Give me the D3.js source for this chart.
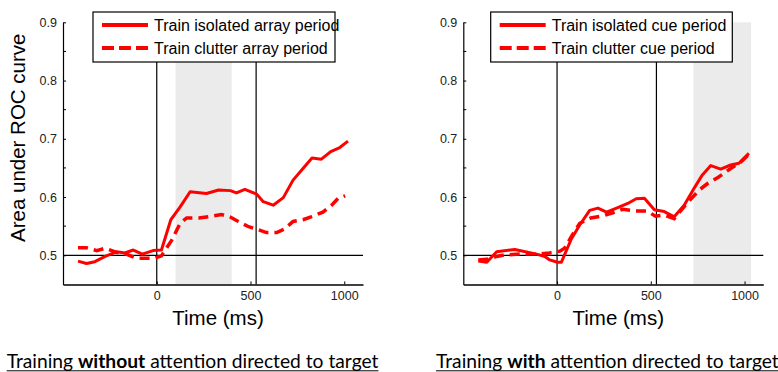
<!DOCTYPE html>
<html>
<head>
<meta charset="utf-8">
<script src="https://cdn.jsdelivr.net/npm/d3@7"></script>
<style>
  body { margin: 0; background: #fff; }
  svg { display: block; font-family: "Liberation Sans", Arial, sans-serif; }
</style>
</head>
<body>
<div id="chart"></div>
<script>
// Left panel: training without attention (array period)
var leftIsoTime = [-420, -375, -330, -275, -215, -170, -125, -77, -20, 25, 75, 125, 178, 265, 330, 393, 425, 470, 533, 568, 621, 675, 727, 780, 828, 878, 928, 976, 1020];
var leftIsoVal  = [0.490, 0.486, 0.489, 0.498, 0.506, 0.504, 0.509, 0.502, 0.508, 0.509, 0.561, 0.583, 0.609, 0.606, 0.612, 0.611, 0.607, 0.613, 0.605, 0.592, 0.586, 0.599, 0.629, 0.649, 0.667, 0.665, 0.678, 0.685, 0.696];
var leftClutTime = [-420, -375, -320, -275, -215, -170, -110, -65, -10, 25, 80, 125, 160, 225, 290, 345, 390, 435, 490, 540, 585, 640, 680, 727, 780, 823, 886, 933, 968, 1005];
var leftClutVal  = [0.513, 0.513, 0.508, 0.512, 0.505, 0.503, 0.495, 0.495, 0.495, 0.499, 0.526, 0.555, 0.564, 0.564, 0.567, 0.570, 0.566, 0.558, 0.549, 0.544, 0.539, 0.539, 0.545, 0.558, 0.561, 0.566, 0.574, 0.586, 0.598, 0.602];

// Right panel: training with attention (cue period)
var rightIsoTime = [-420, -375, -322, -225, -109, -65, -39, 2, 23, 76, 121, 174, 218, 264, 324, 377, 422, 466, 519, 572, 625, 678, 731, 775, 820, 873, 926, 970, 1023];
var rightIsoVal  = [0.490, 0.488, 0.506, 0.510, 0.502, 0.498, 0.492, 0.488, 0.488, 0.528, 0.552, 0.577, 0.581, 0.574, 0.582, 0.589, 0.597, 0.598, 0.578, 0.575, 0.566, 0.586, 0.615, 0.638, 0.654, 0.648, 0.655, 0.658, 0.675];
var rightClutTime = [-420, -375, -322, -290, -200, -100, -40, 15, 40, 76, 121, 180, 235, 298, 350, 420, 480, 525, 572, 625, 695, 758, 806, 860, 926, 980, 1023];
var rightClutVal  = [0.492, 0.493, 0.498, 0.500, 0.502, 0.502, 0.504, 0.507, 0.512, 0.532, 0.555, 0.564, 0.567, 0.573, 0.579, 0.576, 0.576, 0.567, 0.569, 0.563, 0.590, 0.612, 0.624, 0.634, 0.649, 0.660, 0.673];

var yTicks = [0.5, 0.6, 0.7, 0.8, 0.9];
var yMinorTicks = [0.55, 0.65, 0.75, 0.85];
var xTicks = [0, 500, 1000];
var eventTimes = [0, 530];
var leftShade = [100, 400];
var rightShade = [727, 1035];
var leftLegend = ["Train isolated array period", "Train clutter array period"];
var rightLegend = ["Train isolated cue period", "Train clutter cue period"];

var width = 778, height = 372;
var svg = d3.select("#chart").append("svg")
    .attr("width", width)
    .attr("height", height);

function zip(t, v) {
    return t.map(function(d, i) { return { t: d, v: v[i] }; });
}

// Draw one panel
function drawPanel(opt) {
    var x = d3.scaleLinear().domain([-500, 1100]).range([opt.left, opt.left + 300]);
    var y = d3.scaleLinear().domain([0.45, 0.9]).range([284.4, 22.3]);
    var g = svg.append("g");

    // shaded window
    g.append("rect")
        .attr("x", x(opt.shade[0]))
        .attr("y", y(0.9))
        .attr("width", x(opt.shade[1]) - x(opt.shade[0]))
        .attr("height", y(0.45) - y(0.9))
        .attr("fill", "#ebebeb");

    // reference lines
    g.append("line")
        .attr("x1", x(-500)).attr("x2", x(1100))
        .attr("y1", y(0.5)).attr("y2", y(0.5))
        .attr("stroke", "#000").attr("stroke-width", 1.2);
    g.selectAll(".ev").data(eventTimes).enter().append("line")
        .attr("x1", d => x(d)).attr("x2", d => x(d))
        .attr("y1", y(0.45)).attr("y2", y(0.9))
        .attr("stroke", "#000").attr("stroke-width", 1.2);

    // axes
    var yAxis = d3.axisLeft(y).tickValues(yTicks).tickFormat(d3.format(".1f"))
        .tickSizeInner(-3).tickSizeOuter(0).tickPadding(6);
    var yg = g.append("g").attr("transform", `translate(${x(-500)},0)`).call(yAxis);
    yg.selectAll(".minor").data(yMinorTicks).enter().append("line")
        .attr("class", "minor")
        .attr("x1", 0).attr("x2", 3)
        .attr("y1", d => y(d)).attr("y2", d => y(d))
        .attr("stroke", "#000");
    yg.select(".domain").attr("stroke-width", 1.2);

    var xAxis = d3.axisBottom(x).tickValues(xTicks).tickFormat(d3.format("d"))
        .tickSizeInner(-3).tickSizeOuter(0).tickPadding(7);
    var xg = g.append("g").attr("transform", `translate(0,${y(0.45)})`).call(xAxis);
    xg.select(".domain").attr("stroke-width", 1.5);
    svg.selectAll(".tick text").attr("font-size", 12.5).attr("fill", "#222")
        .attr("font-family", "Liberation Sans, Arial, sans-serif");

    // curves
    var line = d3.line().x(d => x(d.t)).y(d => y(d.v));
    g.append("path").datum(zip(opt.isoT, opt.isoV))
        .attr("d", line).attr("fill", "none")
        .attr("stroke", "#ff0000").attr("stroke-width", 3)
        .attr("stroke-linejoin", "round");
    g.append("path").datum(zip(opt.clutT, opt.clutV))
        .attr("d", line).attr("fill", "none")
        .attr("stroke", "#ff0000").attr("stroke-width", 3.5)
        .attr("stroke-dasharray", "10,6");

    // x label
    g.append("text")
        .attr("x", opt.left + 155).attr("y", 325)
        .attr("text-anchor", "middle")
        .attr("font-size", 20.5)
        .text("Time (ms)");

    // legend
    var lg = g.append("g").attr("transform", `translate(${opt.legX},12)`);
    lg.append("rect")
        .attr("width", opt.legW).attr("height", 50)
        .attr("fill", "#fff").attr("stroke", "#000").attr("stroke-width", 1.2);
    opt.legend.forEach(function(label, i) {
        var yy = 13 + i * 23;
        lg.append("line")
            .attr("x1", 9).attr("x2", 55)
            .attr("y1", yy).attr("y2", yy)
            .attr("stroke", "#ff0000").attr("stroke-width", 4)
            .attr("stroke-dasharray", i === 0 ? null : "12,5");
        lg.append("text")
            .attr("x", 61).attr("y", yy + 5.5)
            .attr("font-size", 16)
            .text(label);
    });
}

drawPanel({ left: 63, shade: leftShade, isoT: leftIsoTime, isoV: leftIsoVal,
    clutT: leftClutTime, clutV: leftClutVal, legend: leftLegend, legX: 93, legW: 242 });
drawPanel({ left: 463.3, shade: rightShade, isoT: rightIsoTime, isoV: rightIsoVal,
    clutT: rightClutTime, clutV: rightClutVal, legend: rightLegend, legX: 490.7, legW: 241.6 });

// y label
svg.append("text")
    .attr("transform", "translate(25,242) rotate(-90)")
    .attr("font-size", 20.5)
    .text("Area under ROC curve");

// captions, underlined, with a bold word
function caption(x0, parts, size) {
    var t = svg.append("text")
        .attr("x", x0).attr("y", 367.5)
        .attr("font-family", "Lato, 'Open Sans', sans-serif")
        .attr("font-size", size);
    parts.forEach(function(p) {
        t.append("tspan").attr("font-weight", p[1] ? "bold" : "normal").text(p[0]);
    });
    return t;
}
var leftParts = [["Training ", false], ["without", true], [" attention directed to target", false]];
var rightParts = [["Training ", false], ["with", true], [" attention directed to target", false]];

var probe = caption(6.7, leftParts, 16);
var w = probe.node().getComputedTextLength();
var capSize = 16 * 372 / w;
probe.remove();

[[6.7, leftParts], [436, rightParts]].forEach(function(c) {
    var t = caption(c[0], c[1], capSize);
    var tw = t.node().getComputedTextLength();
    svg.append("line")
        .attr("x1", c[0]).attr("x2", c[0] + tw)
        .attr("y1", 370.8).attr("y2", 370.8)
        .attr("stroke", "#000").attr("stroke-width", 1);
});
</script>
</body>
</html>
